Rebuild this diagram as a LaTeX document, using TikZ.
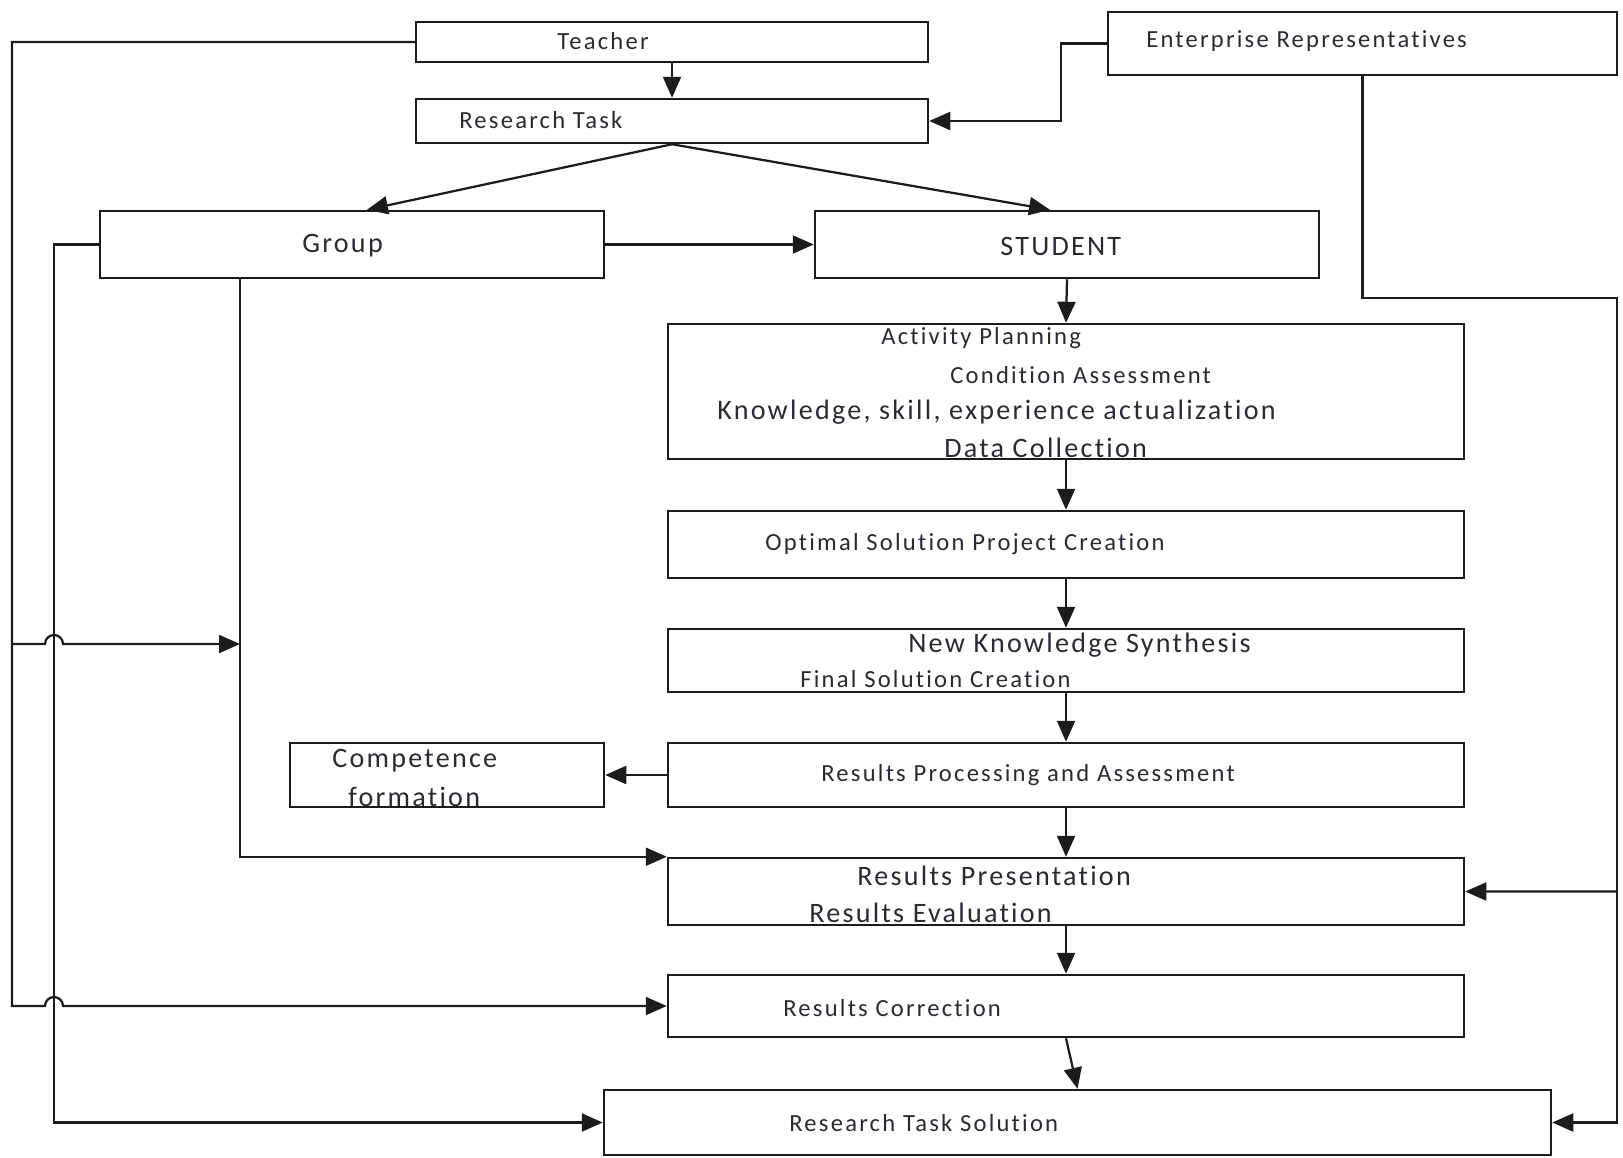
\documentclass[tikz,border=0pt]{standalone}
\usepackage{fontspec}
\setmainfont{Carlito}
\newfontfamily\boxfont[LetterSpace=8,Ligatures=NoCommon]{Carlito}
\newfontfamily\smallfont[LetterSpace=9,Ligatures=NoCommon]{Carlito}
\usetikzlibrary{arrows.meta,calc,fit}
\definecolor{ink}{HTML}{1C1C1C}
\definecolor{words}{HTML}{2A2A33}
\tikzset{
  box/.style={draw=ink, line width=0.5mm, inner sep=0pt},
  link/.style={draw=ink, line width=0.45mm},
  arr/.style={-{Triangle[length=4.2mm,width=3.6mm]}, link},
  small/.style={anchor=west, inner sep=0pt, text=words, font=\fontsize{14}{16}\smallfont},
  big/.style={anchor=west, inner sep=0pt, text=words, font=\fontsize{16}{18}\boxfont}
}
\newcommand{\BoxAt}[5]{% name, x1,y1, x2,y2
  \node[box, fit={(#2,#3) (#4,#5)}] (#1) {};
}

\begin{document}
\begin{tikzpicture}[x=0.2mm,y=-0.2mm]
  \useasboundingbox (0,0) rectangle (1623,1157);
  % boxes
  \BoxAt{teacher}{416}{22}{928}{62}
  \BoxAt{ent}{1108}{12}{1617}{75}
  \BoxAt{rtask}{416}{99}{928}{143}
  \BoxAt{group}{100}{211}{604}{278}
  \BoxAt{student}{815}{211}{1319}{278}
  \BoxAt{act}{668}{324}{1464}{459}
  \BoxAt{opt}{668}{511}{1464}{578}
  \BoxAt{nks}{668}{629}{1464}{692}
  \BoxAt{rproc}{668}{743}{1464}{807}
  \BoxAt{comp}{290}{743}{604}{807}
  \BoxAt{rpres}{668}{858}{1464}{925}
  \BoxAt{rcorr}{668}{975}{1464}{1037}
  \BoxAt{solution}{604}{1090}{1551}{1155}

  % texts
  \node[small] (tteacher) at (557,41) {Teacher};
  \node[small] (tent) at (1146,41) {Enterprise Representatives};
  \node[small] (trtask) at (459,120) {Research Task};
  \node[big] (tgroup) at (302,246) {Group};
  \node[big] (tstudent) at (1000,246) {STUDENT};
  \node[small] (tplan) at (881,338) {Activity Planning};
  \node[small] (tcond) at (950,375) {Condition Assessment};
  \node[big] (tknow) at (717,412) {Knowledge, skill, experience actualization};
  \node[big] (tdata) at (944,448) {Data Collection};
  \node[small] (topt) at (765,544) {Optimal Solution Project Creation};
  \node[big] (tnks) at (908,645) {New Knowledge Synthesis};
  \node[small] (tfinal) at (800,679) {Final Solution Creation};
  \node[big] (tcomp) at (332,761) {Competence};
  \node[big] (tform) at (348,797) {formation};
  \node[small] (trproc) at (821,775) {Results Processing and Assessment};
  \node[big] (trpres) at (857,876) {Results Presentation};
  \node[big] (treval) at (809,913) {Results Evaluation};
  \node[small] (trcorr) at (783,1008) {Results Correction};
  \node[small] (tsol) at (789,1123) {Research Task Solution};

  % connectors
  \coordinate (tap) at (12,644);
  \coordinate (gv) at (240,644);
  \coordinate (eb) at (1617,891.5);
  \draw[arr] (teacher.south) -- (rtask.north);
  \draw[arr] (ent.west) -| (1061,0 |- rtask.east) -- (rtask.east);
  \draw[arr] (rtask.south) -- ($(group.north)+(15,0)$);
  \draw[arr] (rtask.south) -- ($(student.north)+(-17,0)$);
  \draw[arr] (group.east) -- (student.west);
  \draw[arr] (teacher.west) -| (12,0 |- rcorr.west) -- (45,0 |- rcorr.west)
    arc[start angle=180, end angle=360, radius=9] -- (rcorr.west);
  \draw[arr] (tap) -- (45,644) arc[start angle=180, end angle=360, radius=9] -- (gv);
  \draw[arr] (group.south -| gv) |- (rpres.north west);
  \draw[arr] (group.west) -| (54,0 |- solution.west) -- (solution.west);
  \draw[arr] (ent.south) |- (1617,298) |- (solution.east);
  \draw[arr] (eb) -- (rpres.east);
  \foreach \a/\b in {student/act, act/opt, opt/nks, nks/rproc, rproc/rpres, rpres/rcorr, rcorr/solution}
    \draw[arr] (\a.south) -- (\b.north);
  \draw[arr] (rproc.west) -- (comp.east);
\end{tikzpicture}
\end{document}
